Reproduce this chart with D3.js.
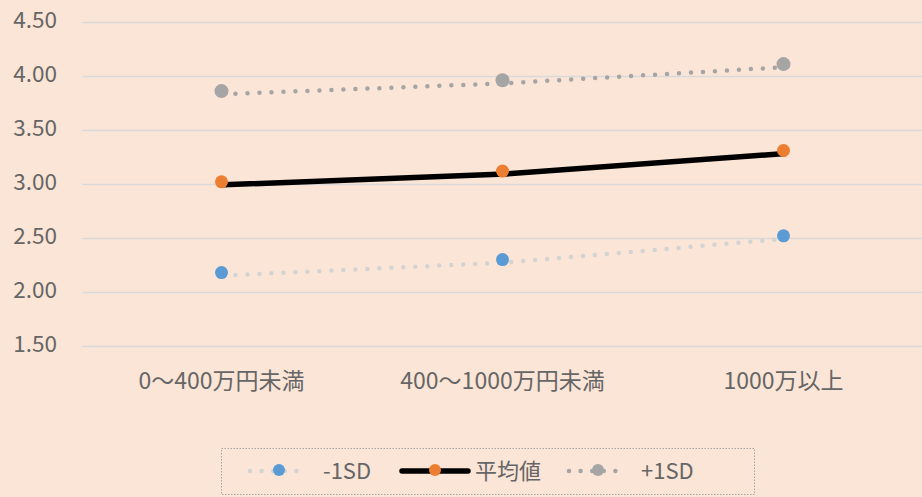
<!DOCTYPE html>
<html>
<head>
<meta charset="utf-8">
<script src="https://cdn.jsdelivr.net/npm/d3@7"></script>
<style>
  body { margin: 0; background: #FBE5D6; }
  svg { display: block; font-family: "Noto Sans CJK JP", sans-serif; }
</style>
</head>
<body>
<svg id="chart" width="922" height="497"></svg>
<script>
var categories = ["0〜400万円未満", "400〜1000万円未満", "1000万以上"];
var minus1sd = [2.18, 2.30, 2.52];
var meanVals = [3.02, 3.12, 3.31];
var plus1sd = [3.86, 3.96, 4.11];
var yTicks = [1.5, 2.0, 2.5, 3.0, 3.5, 4.0, 4.5];

var series = [
    { name: "-1SD", values: minus1sd, line: "#D3D3D3", marker: "#5B9BD5", dotted: true },
    { name: "平均値", values: meanVals, line: "#000000", marker: "#ED7D31", dotted: false },
    { name: "+1SD", values: plus1sd, line: "#A5A5A5", marker: "#A5A5A5", dotted: true }
];

var svg = d3.select("#chart");

var x = d3.scaleBand().domain(categories).range([82, 925]);
var y = d3.scaleLinear().domain([1.5, 4.5]).range([346, 22]);

function cx(i) { return x(categories[i]) + x.bandwidth() / 2 - 1; }

// gridlines
svg.append("g")
    .selectAll("line")
    .data(yTicks)
    .enter()
    .append("line")
    .attr("x1", 82).attr("x2", 922)
    .attr("y1", function(d) { return Math.round(y(d)) + 0.5; })
    .attr("y2", function(d) { return Math.round(y(d)) + 0.5; })
    .attr("stroke", "#D9D9D9")
    .attr("stroke-width", 1.5);

// y axis labels
var yAxis = svg.append("g")
    .attr("transform", "translate(57,-2)")
    .call(d3.axisLeft(y).tickValues(yTicks).tickFormat(d3.format(".2f")).tickSize(0).tickPadding(0));
yAxis.select(".domain").remove();
yAxis.selectAll("text")
    .attr("fill", "#666666")
    .style("font-size", "22.5px")
    .style("font-family", "'Noto Sans CJK JP', sans-serif");

// x axis labels
var xAxis = svg.append("g")
    .attr("transform", "translate(-1,373)")
    .call(d3.axisBottom(x).tickSize(0).tickPadding(0));
xAxis.select(".domain").remove();
xAxis.selectAll("text")
    .attr("fill", "#666666")
    .style("font-size", "23px")
    .style("font-family", "'Noto Sans CJK JP', sans-serif");

var line = d3.line()
    .x(function(d, i) { return cx(i); })
    .y(function(d) { return y(d); });

series.forEach(function(s) {
    var path = svg.append("path")
        .datum(s.values)
        .attr("transform", "translate(2,3)")
        .attr("d", line)
        .attr("fill", "none")
        .attr("stroke", s.line)
        .attr("stroke-linecap", "round");
    if (s.dotted) {
        path.attr("stroke-width", 4.5).attr("stroke-dasharray", "0 12");
    } else {
        path.attr("stroke-width", 5.5).attr("stroke-linecap", "butt");
    }
});

series.forEach(function(s) {
    svg.append("g")
        .selectAll("circle")
        .data(s.values)
        .enter()
        .append("circle")
        .attr("cx", function(d, i) { return cx(i); })
        .attr("cy", function(d) { return y(d); })
        .attr("r", s.name == "+1SD" ? 7 : 6.5)
        .attr("fill", s.marker);
});

// legend
var legend = svg.append("g");
legend.append("rect")
    .attr("x", 221.5).attr("y", 448.5)
    .attr("width", 533).attr("height", 46)
    .attr("fill", "none")
    .attr("stroke", "#A6A6A6")
    .attr("stroke-width", 1)
    .attr("stroke-dasharray", "1.5 1.5");

var legendPos = [
    { x0: 250, x1: 308, tx: 323 },
    { x0: 402, x1: 468, tx: 475 },
    { x0: 569, x1: 627, tx: 641 }
];

series.forEach(function(s, i) {
    var p = legendPos[i];
    var l = legend.append("line")
        .attr("x1", p.x0).attr("x2", p.x1)
        .attr("y1", 471).attr("y2", 471)
        .attr("stroke", s.line);
    if (s.dotted) {
        l.attr("stroke-width", 4.5).attr("stroke-linecap", "round").attr("stroke-dasharray", "0 11.6");
    } else {
        l.attr("stroke-width", 5.5).attr("stroke-linecap", "round");
    }
    legend.append("circle")
        .attr("cx", (p.x0 + p.x1) / 2).attr("cy", 470)
        .attr("r", 6)
        .attr("fill", s.marker);
    legend.append("text")
        .attr("x", p.tx).attr("y", 479)
        .attr("fill", "#666666")
        .style("font-size", "22px")
        .text(s.name);
});
</script>
</body>
</html>
